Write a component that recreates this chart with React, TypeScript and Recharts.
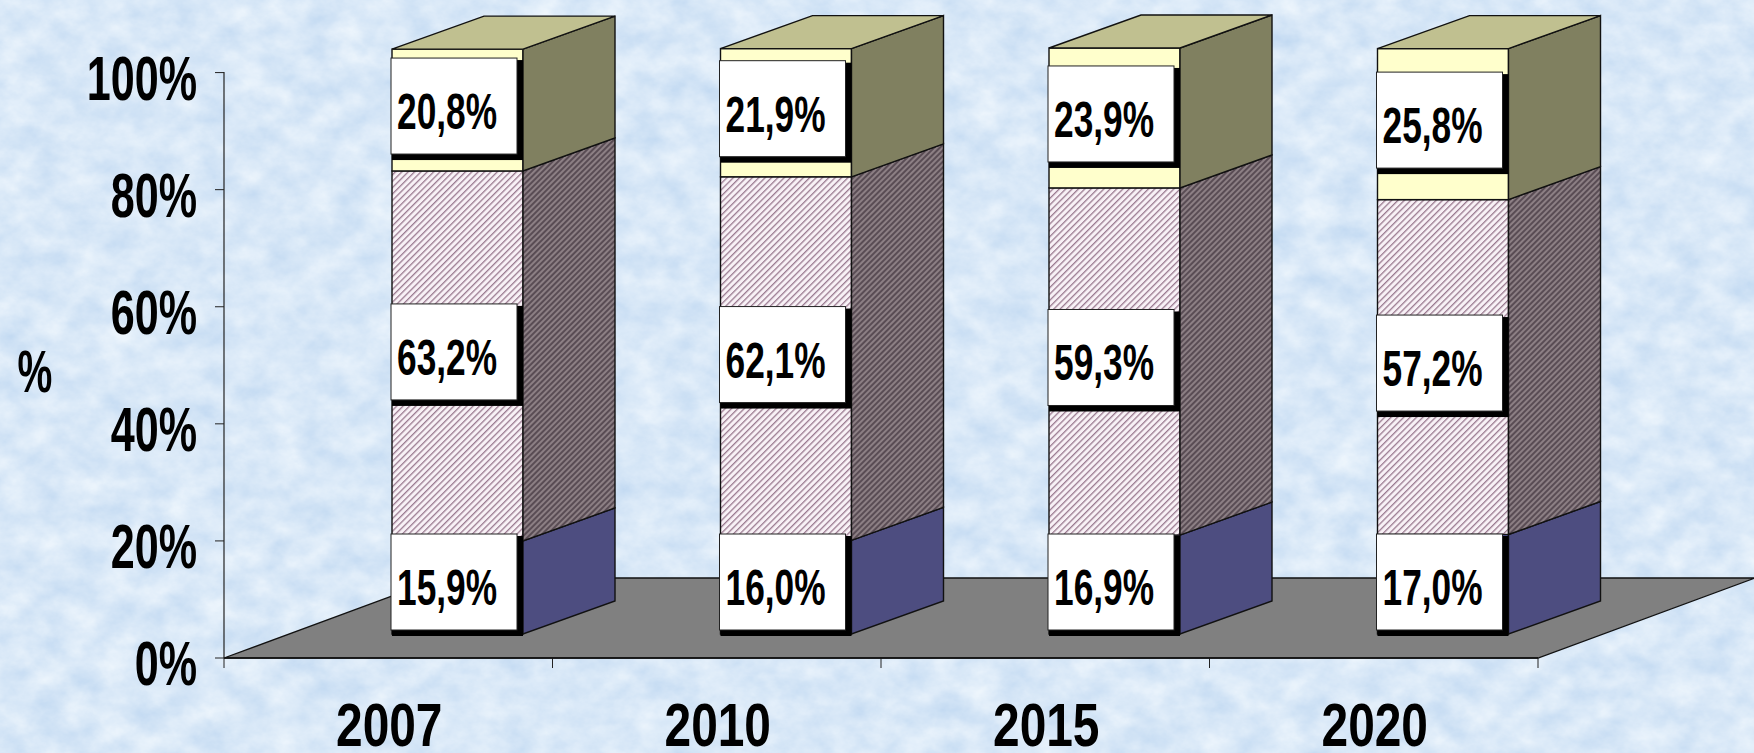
import { BarChart, Bar, XAxis, YAxis, LabelList, Customized } from 'recharts';

const categories = ['2007', '2010', '2015', '2020'];
const lowShare = [15.9, 16.0, 16.9, 17.0];
const midShare = [63.2, 62.1, 59.3, 57.2];
const topShare = [20.8, 21.9, 23.9, 25.8];
const yTicks = [0, 20, 40, 60, 80, 100];

const chartData = categories.map((year, i) => ({
  year,
  low: lowShare[i],
  mid: midShare[i],
  top: topShare[i],
}));

const WIDTH = 1754;
const HEIGHT = 753;
const AXIS_LEFT = 224;
const AXIS_BOTTOM = 95;
const PLOT_TOP = 72;
const RIGHT_GAP = 216;
const FONT = '"Liberation Sans Narrow", "Arial Narrow", "Liberation Sans", sans-serif';

// fake 3D: bars sit on the floor, pushed back from the axis plane
const BAR_DX = 69;
const BAR_DY = -24;
const DEPTH_X = 92;
const DEPTH_Y = -33;
const FLOOR_DX = 217;
const FLOOR_DY = -80;

function Bar3D(props: any) {
  const { x, y, width, height, front, side, roof } = props;
  const l = x + BAR_DX;
  const r = l + width;
  const t = y + BAR_DY;
  const b = t + height;
  return (
    <g stroke="#111" strokeWidth={1.4}>
      <rect x={l} y={t} width={width} height={height} fill={front} />
      <polygon
        points={`${r},${t} ${r + DEPTH_X},${t + DEPTH_Y} ${r + DEPTH_X},${b + DEPTH_Y} ${r},${b}`}
        fill={side}
      />
      {roof && (
        <polygon
          points={`${l},${t} ${r},${t} ${r + DEPTH_X},${t + DEPTH_Y} ${l + DEPTH_X},${t + DEPTH_Y}`}
          fill={roof}
        />
      )}
    </g>
  );
}

function ValueBox(props: any) {
  const { x, y, width, height, value, atFoot } = props;
  const boxW = width - 5;
  const boxH = 96;
  const left = x + BAR_DX - 1;
  const barTop = y + BAR_DY;
  // the lowest box stays at the foot of the bar, the others centre on their segment
  const top = atFoot ? barTop + height - 100 : barTop + height / 2 - 4 - boxH / 2;
  const cx = left + boxW / 2 - 7;
  const cy = top + boxH / 2 + 23;
  return (
    <g>
      <rect x={left + 1} y={top + 2} width={boxW + 5} height={boxH + 4} fill="#000" />
      <rect x={left} y={top} width={boxW} height={boxH} fill="#fff" stroke="#222" strokeWidth={1} />
      <text
        transform={`translate(${cx},${cy}) scale(0.82,1.15)`}
        textAnchor="middle"
        fontFamily={FONT}
        fontWeight={700}
        fontSize={43}
        fill="#000"
      >
        {`${Number(value).toFixed(1).replace('.', ',')}%`}
      </text>
    </g>
  );
}

function YTick({ x, y, payload }: any) {
  return (
    <text
      transform={`translate(${x - 16},${y + 27}) scale(0.845,1.22)`}
      textAnchor="end"
      fontFamily={FONT}
      fontWeight={700}
      fontSize={51}
      fill="#000"
    >
      {`${payload.value}%`}
    </text>
  );
}

function XTick({ x, y, payload }: any) {
  return (
    <text
      transform={`translate(${x + 1},${y + 80}) scale(0.855,1.08)`}
      textAnchor="middle"
      fontFamily={FONT}
      fontWeight={700}
      fontSize={56}
      fill="#000"
    >
      {payload.value}
    </text>
  );
}

function Floor() {
  const x0 = AXIS_LEFT;
  const x1 = WIDTH - RIGHT_GAP;
  const y0 = HEIGHT - AXIS_BOTTOM;
  const step = (x1 - x0) / categories.length;
  return (
    <g>
      <polygon
        points={`${x0},${y0} ${x1},${y0} ${x1 + FLOOR_DX},${y0 + FLOOR_DY} ${x0 + FLOOR_DX},${y0 + FLOOR_DY}`}
        fill="#808080"
        stroke="#111"
        strokeWidth={1.3}
      />
      {/* x ticks fall between the categories, not under them */}
      {[0, ...categories.map((_, i) => i + 1)].map((n) => (
        <line key={n} x1={x0 + n * step} x2={x0 + n * step} y1={y0} y2={y0 + 10} stroke="#222" />
      ))}
    </g>
  );
}

function Backdrop() {
  return (
    <svg width={WIDTH} height={HEIGHT} style={{ position: 'absolute', left: 0, top: 0 }}>
      <defs>
        <filter id="mottle" x="0" y="0" width="100%" height="100%" colorInterpolationFilters="sRGB">
          <feTurbulence type="fractalNoise" baseFrequency="0.03 0.04" numOctaves={5} seed={7} />
          {/* all three channels follow the noise's red channel, so only the lightness moves */}
          <feColorMatrix
            type="matrix"
            values="0.2 0 0 0 0.75  0.13 0 0 0 0.845  0.05 0 0 0 0.945  0 0 0 0 1"
          />
        </filter>
      </defs>
      <rect width={WIDTH} height={HEIGHT} filter="url(#mottle)" />
    </svg>
  );
}

export default function App() {
  return (
    <div style={{ position: 'absolute', left: 0, top: 0, width: WIDTH, height: HEIGHT, overflow: 'hidden' }}>
      <Backdrop />
      <div style={{ position: 'absolute', left: 0, top: 0 }}>
        <BarChart
          width={WIDTH}
          height={HEIGHT}
          data={chartData}
          margin={{ top: PLOT_TOP, right: RIGHT_GAP, bottom: 0, left: 0 }}
          barSize={131}
        >
          <defs>
            <pattern id="hatchFront" patternUnits="userSpaceOnUse" width="4.5" height="4.5" patternTransform="rotate(45)">
              <rect width="4.5" height="4.5" fill="#f8f1f6" />
              <rect width="1.3" height="4.5" fill="#9a7a90" />
            </pattern>
            <pattern id="hatchSide" patternUnits="userSpaceOnUse" width="4" height="4" patternTransform="rotate(45)">
              <rect width="4" height="4" fill="#8c7f84" />
              <rect width="2" height="4" fill="#594c54" />
            </pattern>
          </defs>
          <Customized component={Floor} />
          <XAxis
            dataKey="year"
            height={AXIS_BOTTOM}
            interval={0}
            tick={<XTick />}
            tickLine={false}
            axisLine={{ stroke: '#111', strokeWidth: 1.3 }}
          />
          <YAxis
            width={AXIS_LEFT}
            domain={[0, 100]}
            ticks={yTicks}
            tick={<YTick />}
            tickSize={9}
            tickLine={{ stroke: '#222' }}
            axisLine={{ stroke: '#222', strokeWidth: 1.2 }}
          />
          <Bar
            dataKey="low"
            stackId="a"
            isAnimationActive={false}
            shape={(p: any) => <Bar3D {...p} front="#6666b8" side="#4d4d80" />}
          >
            <LabelList dataKey="low" content={<ValueBox atFoot />} />
          </Bar>
          <Bar
            dataKey="mid"
            stackId="a"
            isAnimationActive={false}
            shape={(p: any) => <Bar3D {...p} front="url(#hatchFront)" side="url(#hatchSide)" />}
          >
            <LabelList dataKey="mid" content={<ValueBox />} />
          </Bar>
          <Bar
            dataKey="top"
            stackId="a"
            isAnimationActive={false}
            shape={(p: any) => <Bar3D {...p} front="#ffffcc" side="#808060" roof="#c0c090" />}
          >
            <LabelList dataKey="top" content={<ValueBox />} />
          </Bar>
          <text
            transform="translate(35,392) scale(0.85,1.3)"
            textAnchor="middle"
            fontFamily={FONT}
            fontWeight={700}
            fontSize={46}
            fill="#000"
          >
            %
          </text>
        </BarChart>
      </div>
    </div>
  );
}
